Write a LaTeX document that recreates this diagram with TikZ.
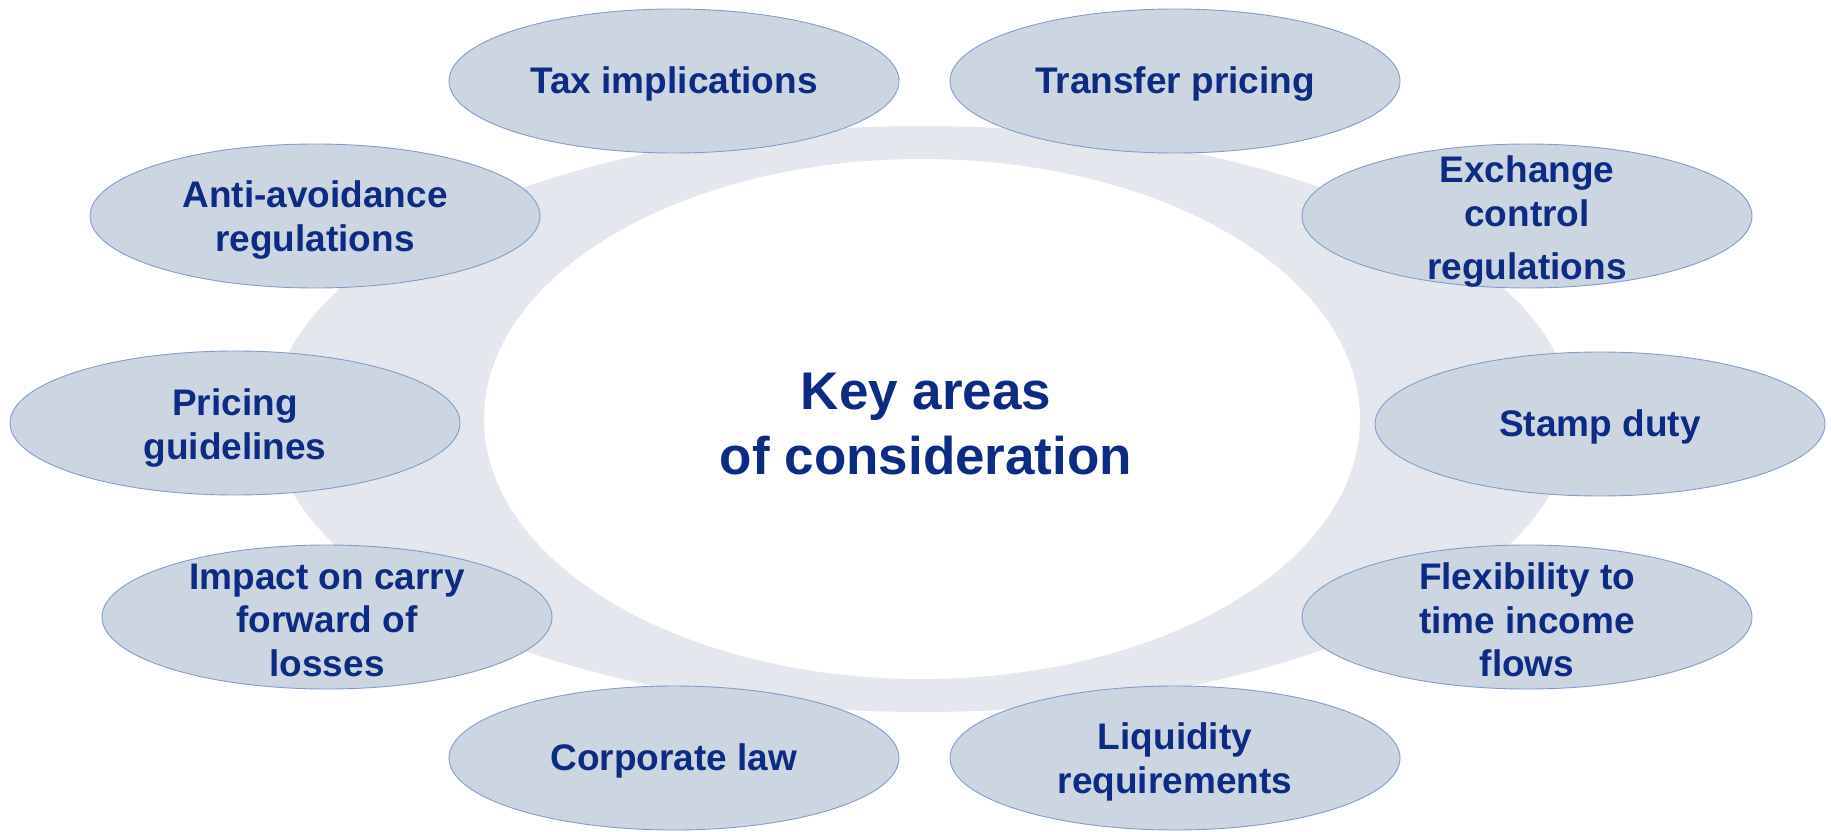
\documentclass[tikz,border=0pt]{standalone}
\usepackage{fontspec}
\setmainfont{Liberation Sans}
\usetikzlibrary{shapes.geometric}
\definecolor{ringgray}{HTML}{E4E8EE}
\definecolor{bubblefill}{HTML}{CCD6E2}
\definecolor{bubbleedge}{HTML}{7F9CCB}
\definecolor{navy}{HTML}{0C2B84}
\begin{document}
\begin{tikzpicture}[x=1pt,y=-1pt,
  bubble/.style={ellipse, draw=bubbleedge, line width=0.9pt, fill=bubblefill,
    minimum width=450pt, minimum height=144pt, inner sep=0pt},
  lbl/.style={text=navy, align=center, font=\fontsize{37}{43.5}\selectfont\bfseries, inner sep=0pt},
  title/.style={text=navy, align=center, font=\fontsize{53}{65}\selectfont\bfseries, inner sep=0pt}]
\useasboundingbox (0,0) rectangle (1831,832);
% background ring
\fill[ringgray, even odd rule] (922,419) ellipse [x radius=650, y radius=293]
  (922,419) ellipse [x radius=438, y radius=260];
\node[title] (centre) at (926,424) {Key areas\\of consideration};
% surrounding topics
\node[bubble] (tax) at (674,81) {};
\node[bubble] (tp) at (1175,81) {};
\node[bubble] (anti) at (315,216) {};
\node[bubble] (exch) at (1527,216) {};
\node[bubble] (price) at (235,423) {};
\node[bubble] (stamp) at (1600,424) {};
\node[bubble] (carry) at (327,617) {};
\node[bubble] (flex) at (1527,617) {};
\node[bubble] (corp) at (674,758) {};
\node[bubble] (liq) at (1175,758) {};
\node[lbl] at ([yshift=-3pt]tax) {Tax implications};
\node[lbl] at ([yshift=-3pt]tp) {Transfer pricing};
\node[lbl] at ([yshift=-4pt]anti) {Anti-avoidance\\regulations};
\node[lbl] at ([yshift=-6pt]exch) {Exchange\\control\\[10pt]regulations};
\node[lbl] at ([yshift=-5pt]price) {Pricing\\guidelines};
\node[lbl] at ([yshift=-3pt]stamp) {Stamp duty};
\node[lbl] at ([yshift=-3pt]carry) {Impact on carry\\forward of\\losses};
\node[lbl] at ([yshift=-3pt]flex) {Flexibility to\\time income\\flows};
\node[lbl] at ([yshift=-3pt]corp) {Corporate law};
\node[lbl] at ([yshift=-4pt]liq) {Liquidity\\requirements};
\end{tikzpicture}
\end{document}
